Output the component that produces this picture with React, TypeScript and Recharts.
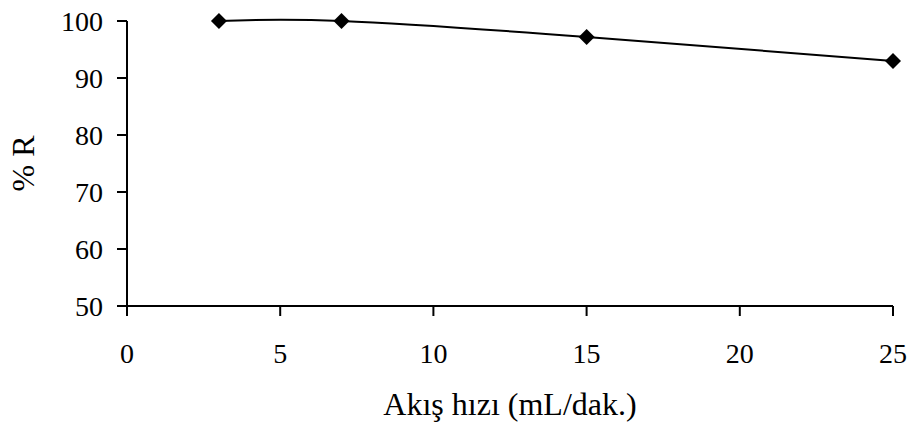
import React from "react";
import { LineChart, Line, XAxis, YAxis } from "recharts";

const flowRates = [3, 7, 15, 25];
const recovery = [100, 100, 97.2, 93];
const xTicks = [0, 5, 10, 15, 20, 25];
const yTicks = [50, 60, 70, 80, 90, 100];

const data = flowRates.map((x, i) => ({ x, r: recovery[i] }));

const font = "'Liberation Serif', 'Times New Roman', serif";

const Diamond = (props: any) => {
  const { cx, cy } = props;
  if (cx == null || cy == null) return null;
  const s = 8;
  return (
    <polygon
      points={`${cx},${cy - s} ${cx + s},${cy} ${cx},${cy + s} ${cx - s},${cy}`}
      fill="#000"
      stroke="none"
    />
  );
};

export default function App() {
  return (
    <div style={{ position: "absolute", left: 0, top: 0, background: "#fff" }}>
      <LineChart
        width={909}
        height={430}
        data={data}
        margin={{ top: 21, right: 16, bottom: 0, left: 0 }}
      >
        <XAxis
          dataKey="x"
          type="number"
          domain={[0, 25]}
          ticks={xTicks}
          height={124}
          stroke="#000"
          strokeWidth={2}
          tickSize={10}
          tickMargin={27}
          tick={{ fill: "#000", fontSize: 28, fontFamily: font }}
          label={{
            value: "Akış hızı (mL/dak.)",
            position: "center",
            dy: 36,
            fill: "#000",
            fontSize: 32,
            fontFamily: font,
          }}
        />
        <YAxis
          type="number"
          domain={[50, 100]}
          ticks={yTicks}
          width={127}
          stroke="#000"
          strokeWidth={2}
          tickSize={10}
          tickMargin={14}
          tick={{ fill: "#000", fontSize: 28, fontFamily: font }}
          label={{
            value: "% R",
            angle: -90,
            position: "center",
            dx: -41,
            fill: "#000",
            fontSize: 32,
            fontFamily: font,
          }}
        />
        <Line
          dataKey="r"
          type="natural"
          stroke="#000"
          strokeWidth={2}
          dot={<Diamond />}
          activeDot={false}
          isAnimationActive={false}
        />
      </LineChart>
    </div>
  );
}
